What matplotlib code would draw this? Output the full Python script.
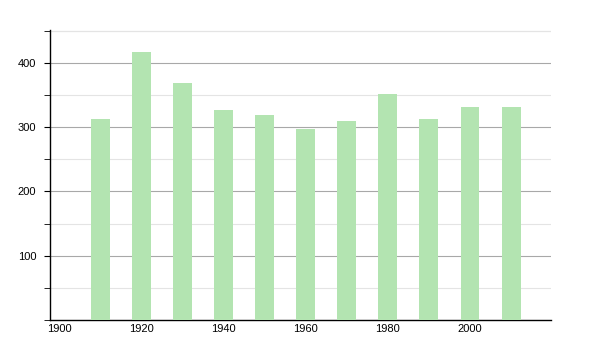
import matplotlib.pyplot as plt
from matplotlib.ticker import MultipleLocator

years = [1910, 1920, 1930, 1940, 1950, 1960, 1970, 1980, 1990, 2000, 2010]
population = [313, 417, 369, 326, 319, 297, 310, 352, 313, 331, 332]
tick_years = [1900, 1920, 1940, 1960, 1980, 2000]

plt.rcParams['font.family'] = ['Liberation Sans', 'DejaVu Sans']

fig = plt.figure(figsize=(6, 3.5), dpi=100)
ax = fig.add_axes([50/600, 30/350, 501/600, 290/350])

ax.bar(years, population, width=4.6, color='#b3e4b1', zorder=3)

ax.set_xlim(1897.8, 2019.7)
ax.set_ylim(0, 451)
ax.set_xticks(tick_years)
ax.yaxis.set_major_locator(MultipleLocator(100))
ax.yaxis.set_minor_locator(MultipleLocator(50))
ax.set_yticks([100, 200, 300, 400])

ax.grid(axis='y', which='major', color='#a8a8a8', linewidth=0.8, zorder=0)
ax.grid(axis='y', which='minor', color='#e4e4e4', linewidth=0.8, zorder=0)
ax.axhline(450, color='#e4e4e4', linewidth=0.8, zorder=0)

for s in ['top', 'right']:
    ax.spines[s].set_visible(False)
ax.spines['left'].set_linewidth(1)
ax.spines['bottom'].set_linewidth(1)

ax.tick_params(axis='x', length=0, labelsize=8, pad=3)
ax.tick_params(axis='y', which='major', length=4, labelsize=8, pad=6)
ax.tick_params(axis='y', which='minor', length=4)

fig.savefig('out.png', dpi=100)
